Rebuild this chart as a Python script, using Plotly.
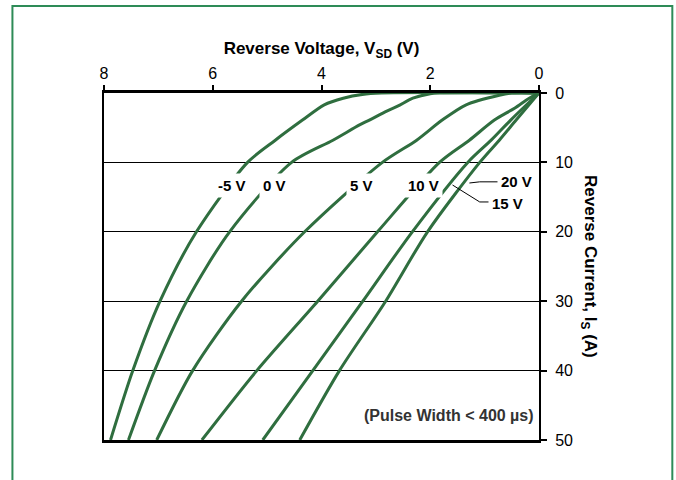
import plotly.graph_objects as go

# Gate voltage labels for each curve
gate_labels = ["-5 V", "0 V", "5 V", "10 V", "15 V", "20 V"]

# Reverse current (A) and reverse voltage (V)
i_m5 = [0, 0, 0.2, 0.75, 1.7, 3.9, 6.8, 10, 20, 30, 40, 50]
v_m5 = [0, 2.9, 3.25, 3.6, 3.95, 4.35, 4.85, 5.36, 6.30, 6.97, 7.47, 7.88]

i_0 = [0, 0, 0.1, 0.75, 1.9, 2.6, 3.9, 4.6, 6.8, 10, 20, 30, 40, 50]
v_0 = [0, 1.8, 2.0, 2.32, 2.6, 2.8, 3.12, 3.3, 3.79, 4.55, 5.69, 6.48, 7.07, 7.55]

i_5 = [0, 0, 0.33, 1.7, 3.9, 6.8, 10, 20, 30, 40, 50]
v_5 = [0, 0.5, 0.73, 1.34, 1.78, 2.25, 2.88, 4.31, 5.47, 6.37, 7.03]

i_10 = [0, 0.75, 2.2, 3.9, 6.8, 10, 20, 30, 40, 50]
v_10 = [0, 0.18, 0.45, 0.82, 1.28, 1.83, 2.97, 4.07, 5.19, 6.20]

i_15 = [0, 3.9, 6.8, 10, 20, 30, 40, 50]
v_15 = [0, 0.52, 0.88, 1.31, 2.33, 3.24, 4.16, 5.08]

i_20 = [0, 3.9, 6.8, 10, 20, 30, 40, 50]
v_20 = [0, 0.42, 0.73, 1.09, 2.05, 2.82, 3.67, 4.40]

curves = [(v_m5, i_m5), (v_0, i_0), (v_5, i_5), (v_10, i_10), (v_15, i_15), (v_20, i_20)]

x_ticks = [8, 6, 4, 2, 0]
y_ticks = [0, 10, 20, 30, 40, 50]

curve_color = "#2F6E3F"
font_family = "Arial, Liberation Sans, sans-serif"

fig = go.Figure()
for (v, i), name in zip(curves, gate_labels):
    fig.add_trace(go.Scatter(
        x=v, y=i, mode="lines", name=name,
        line=dict(color=curve_color, width=3, shape="spline", smoothing=0.8),
        hoverinfo="skip", showlegend=False,
    ))

# Curve labels (sit on their curves with a white box)
label_pos = {"-5 V": (5.65, 13.3), "0 V": (4.86, 13.3), "5 V": (3.26, 13.3),
             "10 V": (2.12, 13.3), "20 V": (0.41, 12.8), "15 V": (0.58, 15.9)}
annotations = []
for lab in gate_labels:
    x, y = label_pos[lab]
    annotations.append(dict(x=x, y=y, xref="x", yref="y", text=f"<b>{lab}</b>",
                            showarrow=False, bgcolor="white", borderpad=3,
                            font=dict(size=15, color="black", family=font_family)))

annotations.append(dict(x=0.05, y=46.4, xref="x", yref="y", xanchor="right",
                        text="<b>(Pulse Width &lt; 400 µs)</b>", showarrow=False,
                        font=dict(size=16, color="#333333", family=font_family)))

annotations.append(dict(x=1.116, y=0.5, xref="paper", yref="paper", textangle=90,
                        xanchor="center", yanchor="middle",
                        text="<b>Reverse Current, I<sub>S</sub> (A)</b>", showarrow=False,
                        font=dict(size=17, color="black", family=font_family)))

shapes = [
    # leader lines
    dict(type="path", xref="x", yref="y", path="M 1.28 12.97 L 1.09 12.8 L 0.73 12.8",
         line=dict(color="black", width=1)),
    dict(type="path", xref="x", yref="y", path="M 1.59 13.26 L 1.09 15.7 L 0.87 15.7",
         line=dict(color="black", width=1)),
    # outer green frame
    dict(type="rect", xref="paper", yref="paper", x0=-0.2105, x1=1.3065, y0=-0.2, y1=1.2507,
         line=dict(color="#2E8B57", width=2), fillcolor="rgba(0,0,0,0)", layer="below"),
]

fig.update_layout(
    width=676, height=480,
    margin=dict(l=104, r=136.5, t=93, b=40),
    paper_bgcolor="white", plot_bgcolor="white",
    font=dict(family=font_family, color="black"),
    annotations=annotations,
    shapes=shapes,
    xaxis=dict(
        side="top", range=[8, 0], tickvals=x_ticks, ticktext=[str(t) for t in x_ticks],
        showgrid=False, zeroline=False, showline=True, linecolor="black", linewidth=3,
        mirror=True, ticks="outside", ticklen=5, tickwidth=1.5, tickcolor="black",
        tickfont=dict(size=16, color="black"), layer="below traces",
        title=dict(text="<b>Reverse Voltage, V<sub>SD</sub> (V)</b>",
                   font=dict(size=17, color="black"), standoff=6),
    ),
    yaxis=dict(
        side="right", range=[50, 0], tickvals=y_ticks, ticktext=[str(t) for t in y_ticks],
        showgrid=True, gridcolor="black", gridwidth=1, zeroline=False,
        showline=True, linecolor="black", linewidth=2, mirror=True,
        ticks="outside", ticklen=6, tickwidth=1.5, tickcolor="black",
        ticklabelstandoff=5,
        tickfont=dict(size=16, color="black"), layer="below traces",
    ),
)

fig.write_html("out.html")
